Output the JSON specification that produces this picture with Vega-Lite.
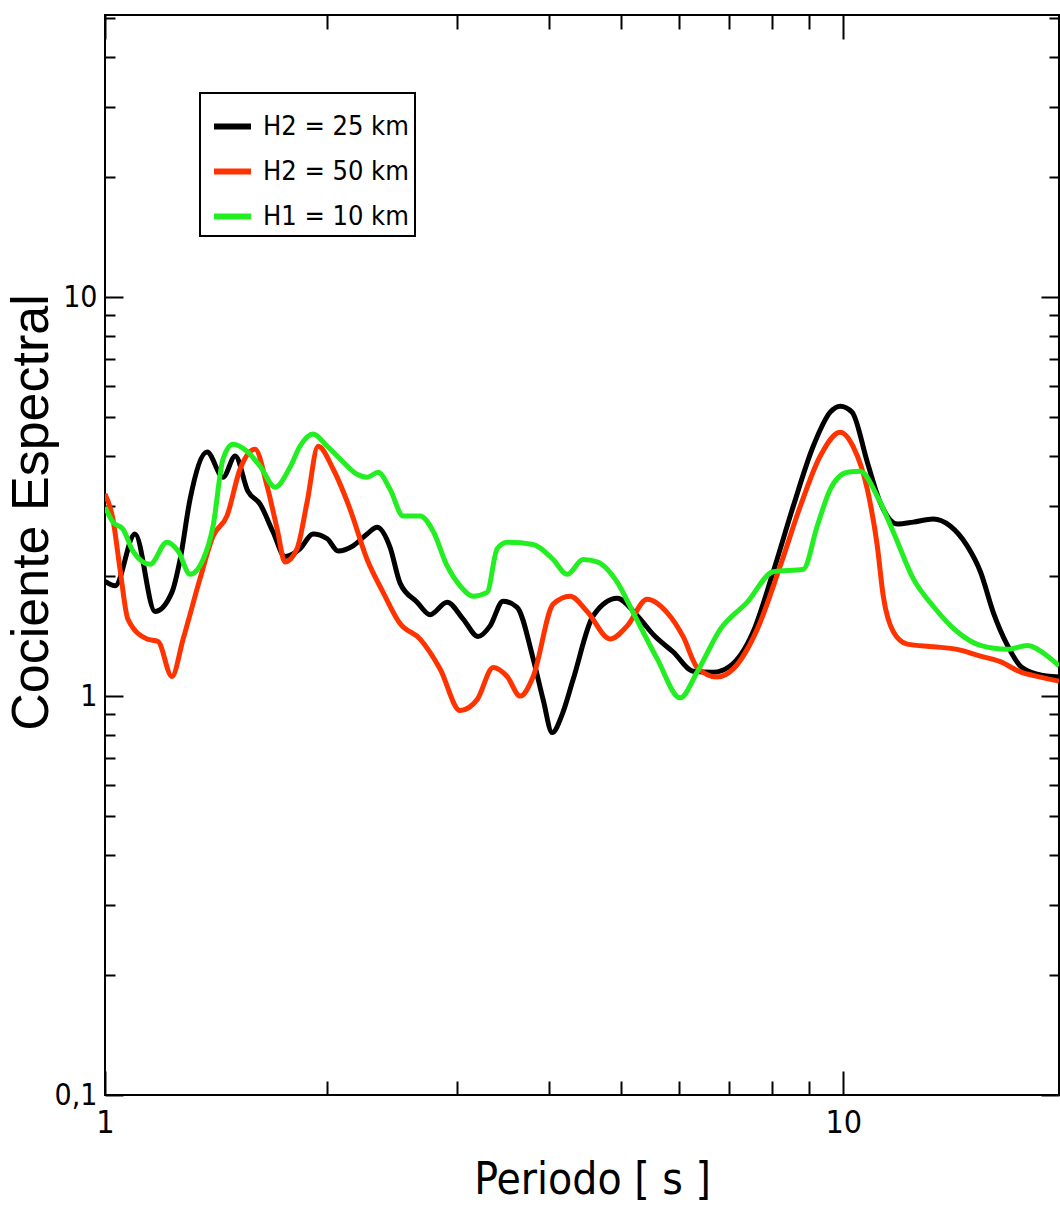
{
  "$schema": "https://vega.github.io/schema/vega-lite/v6.json",
  "width": 954,
  "height": 1080,
  "autosize": {"type": "none"},
  "padding": {"left": 105, "top": 15, "right": 1, "bottom": 117},
  "background": "white",
  "config": {
    "view": {"stroke": "black", "strokeWidth": 2},
    "axis": {"domain": false, "grid": false, "tickColor": "black", "tickWidth": 2, "labelColor": "black", "titleColor": "black"},
    "legend": {"strokeColor": "black", "strokeWidth": 2}
  },
  "data": {
    "values": [
      {"T": 1, "V": 1.94, "s": "H2 = 25 km"},
      {"T": 1.032, "V": 1.89, "s": "H2 = 25 km"},
      {"T": 1.098, "V": 2.55, "s": "H2 = 25 km"},
      {"T": 1.169, "V": 1.63, "s": "H2 = 25 km"},
      {"T": 1.232, "V": 1.82, "s": "H2 = 25 km"},
      {"T": 1.264, "V": 2.2, "s": "H2 = 25 km"},
      {"T": 1.304, "V": 3.12, "s": "H2 = 25 km"},
      {"T": 1.375, "V": 4.09, "s": "H2 = 25 km"},
      {"T": 1.445, "V": 3.54, "s": "H2 = 25 km"},
      {"T": 1.501, "V": 4.0, "s": "H2 = 25 km"},
      {"T": 1.562, "V": 3.26, "s": "H2 = 25 km"},
      {"T": 1.622, "V": 3.03, "s": "H2 = 25 km"},
      {"T": 1.689, "V": 2.58, "s": "H2 = 25 km"},
      {"T": 1.753, "V": 2.24, "s": "H2 = 25 km"},
      {"T": 1.837, "V": 2.34, "s": "H2 = 25 km"},
      {"T": 1.913, "V": 2.55, "s": "H2 = 25 km"},
      {"T": 2.0, "V": 2.48, "s": "H2 = 25 km"},
      {"T": 2.069, "V": 2.31, "s": "H2 = 25 km"},
      {"T": 2.168, "V": 2.38, "s": "H2 = 25 km"},
      {"T": 2.265, "V": 2.55, "s": "H2 = 25 km"},
      {"T": 2.336, "V": 2.65, "s": "H2 = 25 km"},
      {"T": 2.433, "V": 2.36, "s": "H2 = 25 km"},
      {"T": 2.51, "V": 1.92, "s": "H2 = 25 km"},
      {"T": 2.647, "V": 1.72, "s": "H2 = 25 km"},
      {"T": 2.757, "V": 1.6, "s": "H2 = 25 km"},
      {"T": 2.907, "V": 1.72, "s": "H2 = 25 km"},
      {"T": 3.056, "V": 1.56, "s": "H2 = 25 km"},
      {"T": 3.202, "V": 1.41, "s": "H2 = 25 km"},
      {"T": 3.324, "V": 1.5, "s": "H2 = 25 km"},
      {"T": 3.461, "V": 1.73, "s": "H2 = 25 km"},
      {"T": 3.616, "V": 1.67, "s": "H2 = 25 km"},
      {"T": 3.802, "V": 1.24, "s": "H2 = 25 km"},
      {"T": 3.922, "V": 0.98, "s": "H2 = 25 km"},
      {"T": 4.034, "V": 0.81, "s": "H2 = 25 km"},
      {"T": 4.162, "V": 0.9, "s": "H2 = 25 km"},
      {"T": 4.306, "V": 1.1, "s": "H2 = 25 km"},
      {"T": 4.584, "V": 1.59, "s": "H2 = 25 km"},
      {"T": 4.941, "V": 1.76, "s": "H2 = 25 km"},
      {"T": 5.259, "V": 1.59, "s": "H2 = 25 km"},
      {"T": 5.563, "V": 1.41, "s": "H2 = 25 km"},
      {"T": 5.885, "V": 1.29, "s": "H2 = 25 km"},
      {"T": 6.262, "V": 1.155, "s": "H2 = 25 km"},
      {"T": 6.666, "V": 1.148, "s": "H2 = 25 km"},
      {"T": 7.029, "V": 1.19, "s": "H2 = 25 km"},
      {"T": 7.551, "V": 1.45, "s": "H2 = 25 km"},
      {"T": 8.038, "V": 2.05, "s": "H2 = 25 km"},
      {"T": 8.555, "V": 2.99, "s": "H2 = 25 km"},
      {"T": 9.106, "V": 4.23, "s": "H2 = 25 km"},
      {"T": 9.603, "V": 5.15, "s": "H2 = 25 km"},
      {"T": 9.906, "V": 5.33, "s": "H2 = 25 km"},
      {"T": 10.28, "V": 5.15, "s": "H2 = 25 km"},
      {"T": 10.78, "V": 3.86, "s": "H2 = 25 km"},
      {"T": 11.22, "V": 3.06, "s": "H2 = 25 km"},
      {"T": 11.84, "V": 2.7, "s": "H2 = 25 km"},
      {"T": 12.44, "V": 2.73, "s": "H2 = 25 km"},
      {"T": 13.24, "V": 2.78, "s": "H2 = 25 km"},
      {"T": 13.96, "V": 2.67, "s": "H2 = 25 km"},
      {"T": 14.72, "V": 2.38, "s": "H2 = 25 km"},
      {"T": 15.34, "V": 2.05, "s": "H2 = 25 km"},
      {"T": 15.97, "V": 1.62, "s": "H2 = 25 km"},
      {"T": 16.69, "V": 1.34, "s": "H2 = 25 km"},
      {"T": 17.37, "V": 1.19, "s": "H2 = 25 km"},
      {"T": 18.32, "V": 1.135, "s": "H2 = 25 km"},
      {"T": 19.6, "V": 1.116, "s": "H2 = 25 km"},

      {"T": 1, "V": 3.21, "s": "H2 = 50 km"},
      {"T": 1.025, "V": 2.78, "s": "H2 = 50 km"},
      {"T": 1.048, "V": 2.08, "s": "H2 = 50 km"},
      {"T": 1.074, "V": 1.56, "s": "H2 = 50 km"},
      {"T": 1.14, "V": 1.39, "s": "H2 = 50 km"},
      {"T": 1.18, "V": 1.37, "s": "H2 = 50 km"},
      {"T": 1.232, "V": 1.12, "s": "H2 = 50 km"},
      {"T": 1.276, "V": 1.39, "s": "H2 = 50 km"},
      {"T": 1.345, "V": 1.97, "s": "H2 = 50 km"},
      {"T": 1.401, "V": 2.52, "s": "H2 = 50 km"},
      {"T": 1.463, "V": 2.83, "s": "H2 = 50 km"},
      {"T": 1.524, "V": 3.71, "s": "H2 = 50 km"},
      {"T": 1.597, "V": 4.16, "s": "H2 = 50 km"},
      {"T": 1.658, "V": 3.36, "s": "H2 = 50 km"},
      {"T": 1.711, "V": 2.62, "s": "H2 = 50 km"},
      {"T": 1.753, "V": 2.17, "s": "H2 = 50 km"},
      {"T": 1.82, "V": 2.34, "s": "H2 = 50 km"},
      {"T": 1.878, "V": 3.06, "s": "H2 = 50 km"},
      {"T": 1.944, "V": 4.23, "s": "H2 = 50 km"},
      {"T": 2.037, "V": 3.71, "s": "H2 = 50 km"},
      {"T": 2.148, "V": 2.94, "s": "H2 = 50 km"},
      {"T": 2.265, "V": 2.2, "s": "H2 = 50 km"},
      {"T": 2.381, "V": 1.82, "s": "H2 = 50 km"},
      {"T": 2.51, "V": 1.52, "s": "H2 = 50 km"},
      {"T": 2.672, "V": 1.39, "s": "H2 = 50 km"},
      {"T": 2.844, "V": 1.17, "s": "H2 = 50 km"},
      {"T": 3.027, "V": 0.92, "s": "H2 = 50 km"},
      {"T": 3.192, "V": 0.98, "s": "H2 = 50 km"},
      {"T": 3.356, "V": 1.18, "s": "H2 = 50 km"},
      {"T": 3.505, "V": 1.12, "s": "H2 = 50 km"},
      {"T": 3.651, "V": 1.0, "s": "H2 = 50 km"},
      {"T": 3.802, "V": 1.12, "s": "H2 = 50 km"},
      {"T": 4.046, "V": 1.7, "s": "H2 = 50 km"},
      {"T": 4.266, "V": 1.78, "s": "H2 = 50 km"},
      {"T": 4.499, "V": 1.63, "s": "H2 = 50 km"},
      {"T": 4.834, "V": 1.39, "s": "H2 = 50 km"},
      {"T": 5.097, "V": 1.5, "s": "H2 = 50 km"},
      {"T": 5.425, "V": 1.75, "s": "H2 = 50 km"},
      {"T": 5.773, "V": 1.62, "s": "H2 = 50 km"},
      {"T": 6.07, "V": 1.41, "s": "H2 = 50 km"},
      {"T": 6.342, "V": 1.18, "s": "H2 = 50 km"},
      {"T": 6.751, "V": 1.116, "s": "H2 = 50 km"},
      {"T": 7.095, "V": 1.17, "s": "H2 = 50 km"},
      {"T": 7.646, "V": 1.47, "s": "H2 = 50 km"},
      {"T": 8.216, "V": 2.12, "s": "H2 = 50 km"},
      {"T": 8.745, "V": 2.99, "s": "H2 = 50 km"},
      {"T": 9.308, "V": 4.0, "s": "H2 = 50 km"},
      {"T": 9.906, "V": 4.59, "s": "H2 = 50 km"},
      {"T": 10.31, "V": 4.23, "s": "H2 = 50 km"},
      {"T": 10.78, "V": 3.3, "s": "H2 = 50 km"},
      {"T": 11.12, "V": 2.38, "s": "H2 = 50 km"},
      {"T": 11.33, "V": 1.78, "s": "H2 = 50 km"},
      {"T": 11.69, "V": 1.45, "s": "H2 = 50 km"},
      {"T": 12.21, "V": 1.35, "s": "H2 = 50 km"},
      {"T": 13.24, "V": 1.33, "s": "H2 = 50 km"},
      {"T": 14.27, "V": 1.31, "s": "H2 = 50 km"},
      {"T": 15.34, "V": 1.26, "s": "H2 = 50 km"},
      {"T": 16.32, "V": 1.22, "s": "H2 = 50 km"},
      {"T": 17.37, "V": 1.15, "s": "H2 = 50 km"},
      {"T": 18.49, "V": 1.116, "s": "H2 = 50 km"},
      {"T": 19.6, "V": 1.09, "s": "H2 = 50 km"},

      {"T": 1, "V": 2.98, "s": "H1 = 10 km"},
      {"T": 1.025, "V": 2.73, "s": "H1 = 10 km"},
      {"T": 1.058, "V": 2.62, "s": "H1 = 10 km"},
      {"T": 1.091, "V": 2.31, "s": "H1 = 10 km"},
      {"T": 1.151, "V": 2.14, "s": "H1 = 10 km"},
      {"T": 1.213, "V": 2.43, "s": "H1 = 10 km"},
      {"T": 1.256, "V": 2.31, "s": "H1 = 10 km"},
      {"T": 1.304, "V": 2.02, "s": "H1 = 10 km"},
      {"T": 1.358, "V": 2.2, "s": "H1 = 10 km"},
      {"T": 1.401, "V": 2.67, "s": "H1 = 10 km"},
      {"T": 1.445, "V": 3.93, "s": "H1 = 10 km"},
      {"T": 1.491, "V": 4.28, "s": "H1 = 10 km"},
      {"T": 1.557, "V": 4.11, "s": "H1 = 10 km"},
      {"T": 1.622, "V": 3.77, "s": "H1 = 10 km"},
      {"T": 1.7, "V": 3.34, "s": "H1 = 10 km"},
      {"T": 1.781, "V": 3.75, "s": "H1 = 10 km"},
      {"T": 1.837, "V": 4.23, "s": "H1 = 10 km"},
      {"T": 1.913, "V": 4.54, "s": "H1 = 10 km"},
      {"T": 2.0, "V": 4.23, "s": "H1 = 10 km"},
      {"T": 2.082, "V": 3.93, "s": "H1 = 10 km"},
      {"T": 2.195, "V": 3.6, "s": "H1 = 10 km"},
      {"T": 2.265, "V": 3.54, "s": "H1 = 10 km"},
      {"T": 2.344, "V": 3.64, "s": "H1 = 10 km"},
      {"T": 2.433, "V": 3.3, "s": "H1 = 10 km"},
      {"T": 2.534, "V": 2.83, "s": "H1 = 10 km"},
      {"T": 2.672, "V": 2.83, "s": "H1 = 10 km"},
      {"T": 2.783, "V": 2.59, "s": "H1 = 10 km"},
      {"T": 2.907, "V": 2.12, "s": "H1 = 10 km"},
      {"T": 3.027, "V": 1.89, "s": "H1 = 10 km"},
      {"T": 3.152, "V": 1.78, "s": "H1 = 10 km"},
      {"T": 3.293, "V": 1.82, "s": "H1 = 10 km"},
      {"T": 3.398, "V": 2.34, "s": "H1 = 10 km"},
      {"T": 3.505, "V": 2.43, "s": "H1 = 10 km"},
      {"T": 3.802, "V": 2.4, "s": "H1 = 10 km"},
      {"T": 4.046, "V": 2.2, "s": "H1 = 10 km"},
      {"T": 4.227, "V": 2.02, "s": "H1 = 10 km"},
      {"T": 4.443, "V": 2.2, "s": "H1 = 10 km"},
      {"T": 4.642, "V": 2.17, "s": "H1 = 10 km"},
      {"T": 4.941, "V": 1.93, "s": "H1 = 10 km"},
      {"T": 5.193, "V": 1.62, "s": "H1 = 10 km"},
      {"T": 5.598, "V": 1.24, "s": "H1 = 10 km"},
      {"T": 6.013, "V": 0.99, "s": "H1 = 10 km"},
      {"T": 6.342, "V": 1.15, "s": "H1 = 10 km"},
      {"T": 6.813, "V": 1.47, "s": "H1 = 10 km"},
      {"T": 7.413, "V": 1.72, "s": "H1 = 10 km"},
      {"T": 8.038, "V": 2.05, "s": "H1 = 10 km"},
      {"T": 8.829, "V": 2.08, "s": "H1 = 10 km"},
      {"T": 9.221, "V": 2.67, "s": "H1 = 10 km"},
      {"T": 9.603, "V": 3.3, "s": "H1 = 10 km"},
      {"T": 10.13, "V": 3.64, "s": "H1 = 10 km"},
      {"T": 10.54, "V": 3.66, "s": "H1 = 10 km"},
      {"T": 11.12, "V": 3.17, "s": "H1 = 10 km"},
      {"T": 11.69, "V": 2.58, "s": "H1 = 10 km"},
      {"T": 12.44, "V": 1.97, "s": "H1 = 10 km"},
      {"T": 13.24, "V": 1.68, "s": "H1 = 10 km"},
      {"T": 14.27, "V": 1.45, "s": "H1 = 10 km"},
      {"T": 15.34, "V": 1.34, "s": "H1 = 10 km"},
      {"T": 16.69, "V": 1.31, "s": "H1 = 10 km"},
      {"T": 17.76, "V": 1.34, "s": "H1 = 10 km"},
      {"T": 18.9, "V": 1.26, "s": "H1 = 10 km"},
      {"T": 19.6, "V": 1.19, "s": "H1 = 10 km"}
    ]
  },
  "resolve": {"axis": {"x": "independent", "y": "independent"}},
  "layer": [
    {
      "mark": {"type": "line", "strokeWidth": 5, "interpolate": "monotone", "clip": true},
      "encoding": {
        "x": {
          "field": "T", "type": "quantitative",
          "scale": {"type": "log", "domain": [1, 19.6], "nice": false},
          "axis": {
            "orient": "bottom",
            "values": [1, 2, 3, 4, 5, 6, 7, 8, 9, 10],
            "labelExpr": "datum.value == 1 ? '1' : datum.value == 10 ? '10' : ''",
            "labelFlush": false,
            "labelOverlap": false,
            "tickSize": {"condition": {"test": "datum.value == 1 || datum.value == 10", "value": -24}, "value": -14},
            "labelFont": "DejaVu Sans Condensed, Liberation Sans, sans-serif",
            "labelFontSize": 32,
            "labelPadding": 36,
            "title": "Periodo  [ s ]",
            "titleFont": "DejaVu Sans Condensed, Liberation Sans, sans-serif",
            "titleFontSize": 44,
            "titleFontWeight": "normal",
            "titleX": 487,
            "titleY": 98,
            "titleBaseline": "alphabetic"
          }
        },
        "y": {
          "field": "V", "type": "quantitative",
          "scale": {"type": "log", "domain": [0.1, 51], "nice": false},
          "axis": {
            "orient": "left",
            "values": [0.1, 0.2, 0.3, 0.4, 0.5, 0.6, 0.7, 0.8, 0.9, 1, 2, 3, 4, 5, 6, 7, 8, 9, 10, 20, 30, 40, 50],
            "labelExpr": "datum.value == 0.1 ? '0,1' : datum.value == 1 ? '1' : datum.value == 10 ? '10' : ''",
            "labelFlush": false,
            "labelOverlap": false,
            "tickSize": {"condition": {"test": "datum.value == 0.1 || datum.value == 1 || datum.value == 10", "value": -18}, "value": -10},
            "labelFont": "DejaVu Sans Condensed, Liberation Sans, sans-serif",
            "labelFontSize": 30,
            "labelPadding": 26,
            "title": "Cociente Espectral",
            "titleFont": "Liberation Sans",
            "titleFontSize": 52,
            "titleFontWeight": "normal",
            "titleX": -58,
            "titleY": 497,
            "titleBaseline": "alphabetic"
          }
        },
        "color": {
          "field": "s", "type": "nominal",
          "scale": {"domain": ["H2 = 25 km", "H2 = 50 km", "H1 = 10 km"], "range": ["#000000", "#ff3300", "#22ee22"]},
          "legend": {
            "orient": "none",
            "legendX": 95,
            "legendY": 78,
            "title": " ",
            "titleFontSize": 6,
            "titlePadding": 0,
            "symbolType": "stroke",
            "symbolSize": 1369,
            "symbolStrokeWidth": 6,
            "symbolOffset": 5,
            "labelFont": "DejaVu Sans Condensed, Liberation Sans, sans-serif",
            "labelFontSize": 27,
            "labelColor": "black",
            "labelOffset": 9,
            "rowPadding": 10,
            "padding": 6
          }
        }
      }
    },
    {
      "mark": {"type": "point", "opacity": 0},
      "encoding": {
        "x": {
          "field": "T", "type": "quantitative",
          "axis": {
            "orient": "top",
            "values": [1, 2, 3, 4, 5, 6, 7, 8, 9, 10],
            "labels": false,
            "title": null,
            "tickSize": {"condition": {"test": "datum.value == 1 || datum.value == 10", "value": -24}, "value": -14}
          }
        },
        "y": {
          "field": "V", "type": "quantitative",
          "axis": {
            "orient": "right",
            "values": [0.1, 0.2, 0.3, 0.4, 0.5, 0.6, 0.7, 0.8, 0.9, 1, 2, 3, 4, 5, 6, 7, 8, 9, 10, 20, 30, 40, 50],
            "labels": false,
            "title": null,
            "tickSize": {"condition": {"test": "datum.value == 0.1 || datum.value == 1 || datum.value == 10", "value": -18}, "value": -10}
          }
        }
      }
    }
  ]
}
